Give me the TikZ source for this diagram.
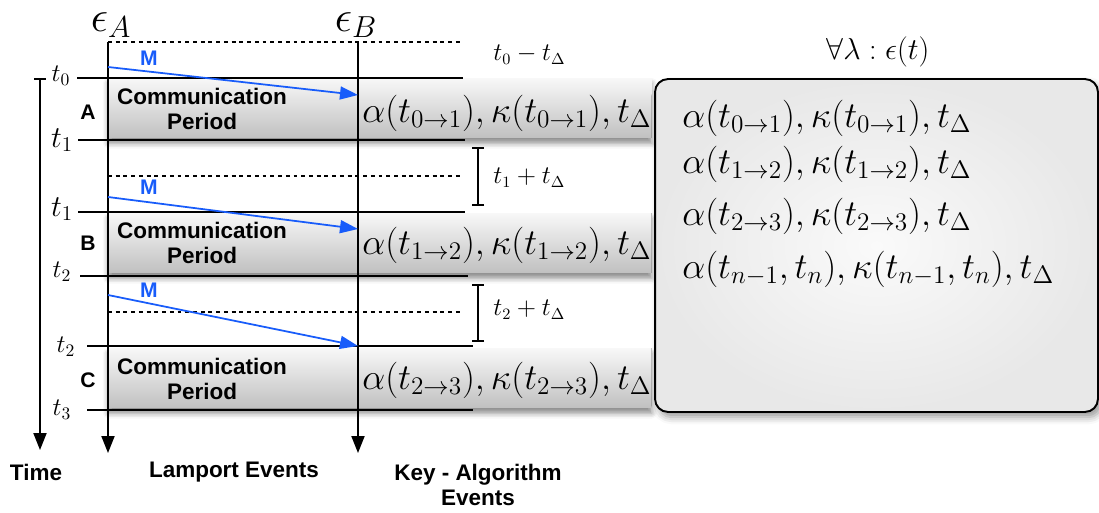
\documentclass[tikz,border=0pt]{standalone}
\usepackage{fontspec}
\newfontfamily\labelfont{Liberation Sans}
\usepackage{tikz}
\usetikzlibrary{arrows.meta,positioning,shadows.blur}
\definecolor{MsgBlue}{RGB}{24,92,250}
\definecolor{BandTop}{RGB}{248,248,248}
\definecolor{BandBottom}{RGB}{192,192,192}
\definecolor{PanelCenter}{RGB}{250,250,250}
\definecolor{PanelEdge}{RGB}{232,232,232}

\begin{document}
\begin{tikzpicture}[
  x=0.02cm,y=-0.02cm,
  band/.style={
    minimum width=10.88cm,minimum height=1.2cm,inner sep=0pt,
    top color=BandTop,bottom color=BandBottom,
    blur shadow={shadow xshift=0pt,shadow yshift=-3pt,shadow blur radius=3pt,shadow opacity=45}
  },
  panel/.style={
    draw,line width=1.1pt,rounded corners=2.6mm,
    minimum width=8.86cm,minimum height=6.66cm,
    inner color=PanelCenter,outer color=PanelEdge,
    blur shadow={shadow xshift=2pt,shadow yshift=-3pt,shadow blur radius=4pt}
  },
  sflabel/.style={font=\labelfont\bfseries\fontsize{12.8}{14.6}\selectfont,align=center,inner sep=0pt},
  msglabel/.style={font=\labelfont\bfseries\fontsize{12}{14}\selectfont,text=MsgBlue,inner sep=0pt},
  fm/.style={font=\fontsize{19.5}{23}\selectfont,inner sep=0pt,anchor=west},
  gap/.style={font=\fontsize{13.5}{16}\selectfont,inner sep=0pt,anchor=west},
  proc/.style={font=\fontsize{23}{26}\selectfont,inner sep=0pt},
  timeline/.style={line width=1.1pt},
  dotline/.style={line width=0.7pt,dash pattern=on 2.2pt off 2.2pt},
  axis/.style={line width=1.1pt,-{Triangle[length=3.4mm,width=2.6mm]}},
  msg/.style={MsgBlue,line width=1pt,-{Triangle[length=3.6mm,width=2.6mm]}},
  bracket/.style={line width=1pt,{Bar[width=2.4mm]}-{Bar[width=2.4mm]}}
]
  \useasboundingbox (0,0) rectangle (1099,513);

  % communication periods
  \node[band] (bandA) at (380,108) {};
  \node[band] (bandB) at (380,243) {};
  \node[band] (bandC) at (380,378) {};

  % summary panel
  \node[panel] (summary) at (876.5,245.5) {};
  \node at (878,52) (forall) {\LARGE $\forall\lambda:\epsilon(t)$};

  % time marks
  \foreach \y/\xa/\xb in {78/77/463,140/78/465,212/78/465,276/80/468,346/87/473,410/87/473}
    \draw[timeline] (\xa,\y) -- (\xb,\y);
  \node (t0) at (61,76) {\Large $t_0$};
  \node (t1a) at (62,140) {\LARGE $t_1$};
  \node (t1b) at (62,209) {\LARGE $t_1$};
  \node (t2a) at (62,272) {\Large $t_2$};
  \node (t2b) at (66,347) {\Large $t_2$};
  \node (t3) at (62,410) {\Large $t_3$};

  % dashed marks
  \foreach \y/\xb in {42/460,176/463,312/463}
    \draw[dotline] (108,\y) -- (\xb,\y);

  % axes
  \coordinate (tmTop) at (40,78);
  \coordinate (tmEnd) at (40,450);
  \coordinate (laTop) at (108,42);
  \coordinate (laEnd) at (108,453);
  \coordinate (kaTop) at (358,42);
  \coordinate (kaEnd) at (358,453);
  \draw[axis,{Bar[width=2.4mm]}-{Triangle[length=3.4mm,width=2.6mm]}] (tmTop) -- (tmEnd);
  \draw[axis] (laTop) -- (laEnd);
  \draw[axis] (kaTop) -- (kaEnd);
  \node[proc] (epsA) at (111,25) {$\epsilon_A$};
  \node[proc] (epsB) at (356,25) {$\epsilon_B$};

  % period labels
  \node[sflabel] (perA) at (202,109) {Communication\\Period};
  \node[sflabel] (perB) at (202,243) {Communication\\Period};
  \node[sflabel] (perC) at (202,379) {Communication\\Period};
  \node[sflabel,font=\labelfont\bfseries\fontsize{12}{14}\selectfont] (labA) at (88,112) {A};
  \node[sflabel,font=\labelfont\bfseries\fontsize{12}{14}\selectfont] (labB) at (88,243) {B};
  \node[sflabel,font=\labelfont\bfseries\fontsize{12}{14}\selectfont] (labC) at (88,380) {C};

  % messages
  \coordinate (mA0) at (108,67);
  \coordinate (mA1) at (358,95);
  \coordinate (mB0) at (108,197);
  \coordinate (mB1) at (358,229);
  \coordinate (mC0) at (108,295);
  \coordinate (mC1) at (358,346);
  \draw[msg] (mA0) -- (mA1);
  \draw[msg] (mB0) -- (mB1);
  \draw[msg] (mC0) -- (mC1);
  \node[msglabel] (msgA) at (149,58) {M};
  \node[msglabel] (msgB) at (149,187) {M};
  \node[msglabel] (msgC) at (149,290) {M};

  % key values
  \node[fm] (keyA) at (362,113) {$\alpha(t_{0\rightarrow1}),\kappa(t_{0\rightarrow1}),t_\Delta$};
  \node[fm] (keyB) at (362,245) {$\alpha(t_{1\rightarrow2}),\kappa(t_{1\rightarrow2}),t_\Delta$};
  \node[fm] (keyC) at (362,380) {$\alpha(t_{2\rightarrow3}),\kappa(t_{2\rightarrow3}),t_\Delta$};

  % intervals
  \coordinate (gA0) at (478,147);
  \coordinate (gA1) at (478,206);
  \coordinate (gB0) at (478,284);
  \coordinate (gB1) at (478,342);
  \draw[bracket] (gA0) -- (gA1);
  \draw[bracket] (gB0) -- (gB1);
  \node[gap] (gap0) at (493,55) {$t_0-t_\Delta$};
  \node[gap] (gap1) at (493,178) {$t_1+t_\Delta$};
  \node[gap] (gap2) at (493,310) {$t_2+t_\Delta$};

  % panel lines
  \node[fm] (sumA) at (682,118) {$\alpha(t_{0\rightarrow1}),\kappa(t_{0\rightarrow1}),t_\Delta$};
  \node[fm] (sumB) at (682,164) {$\alpha(t_{1\rightarrow2}),\kappa(t_{1\rightarrow2}),t_\Delta$};
  \node[fm] (sumC) at (682,216) {$\alpha(t_{2\rightarrow3}),\kappa(t_{2\rightarrow3}),t_\Delta$};
  \node[fm] (sumN) at (682,269) {$\alpha(t_{n-1},t_n),\kappa(t_{n-1},t_n),t_\Delta$};

  % captions
  \node[sflabel] (capTime) at (36,472) {Time};
  \node[sflabel] (capLamport) at (234,472) {Lamport Events};
  \node[sflabel] (capKey) at (478,485) {Key - Algorithm\\Events};
\end{tikzpicture}
\end{document}
